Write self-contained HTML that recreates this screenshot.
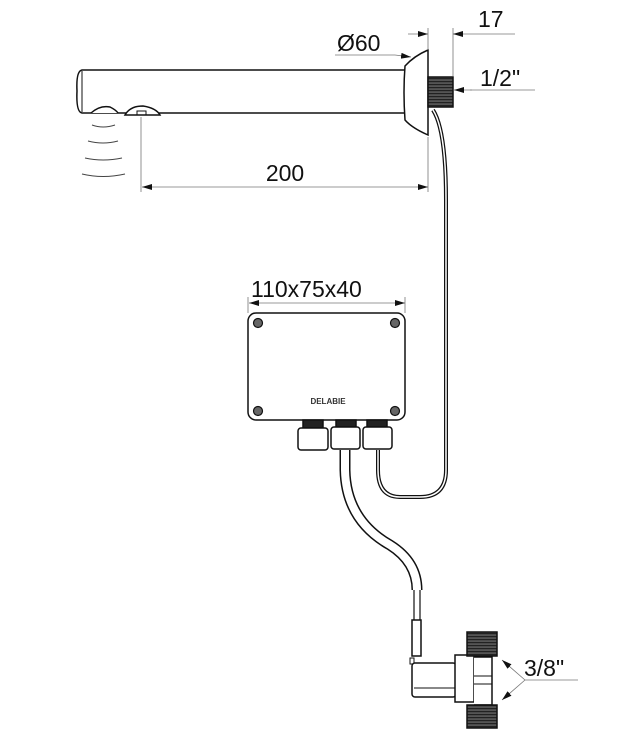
<!DOCTYPE html>
<html><head><style>html,body{margin:0;padding:0;background:#fff}svg{display:block}</style></head><body>
<svg width="624" height="737" viewBox="0 0 624 737" xmlns="http://www.w3.org/2000/svg" font-family="Liberation Sans, sans-serif">
<defs>
<marker id="a" viewBox="0 0 10 6" refX="10" refY="3" markerWidth="10" markerHeight="6" orient="auto-start-reverse" markerUnits="userSpaceOnUse"><path d="M0,0L10,3L0,6z" fill="#111"/></marker>
<pattern id="th" width="4" height="3" patternUnits="userSpaceOnUse"><rect width="4" height="3" fill="#555"/><rect width="4" height="1.2" fill="#222"/></pattern>
</defs>
<g fill="none" stroke="#111" stroke-width="1.5">
<path d="M82,70 L405,70 L405,113 L82,113 Q76,112 77,91 Q76,71 82,70Z" fill="#fff"/>
<line x1="82" y1="71" x2="82" y2="112" stroke-width="1"/>
<path d="M91,113 Q100,105 110,107 Q116,110 118,113" fill="#fff"/>
<path d="M125,115 Q130,106 143,106 Q156,108 160,115 Z" fill="#fff"/>
<rect x="137" y="111" width="9" height="4" stroke-width="1"/>
<path d="M428,50 L428,135 Q412,128 405,120 Q403,92 405,66 Q414,56 428,50Z" fill="#fff"/>
<rect x="428" y="77" width="25" height="30" fill="url(#th)" stroke="#111"/>
<path d="M433,110 Q446,130 446,200 L446,470 Q446,497 420,497 L400,497 Q378,497 378,470 L378,450" stroke-width="4"/>
<path d="M433,110 Q446,130 446,200 L446,470 Q446,497 420,497 L400,497 Q378,497 378,470 L378,450" stroke="#fff" stroke-width="1.5"/>
<path d="M345,450 L345,470 Q346,520 390,545 Q417,562 417,590" stroke-width="11"/>
<path d="M345,450 L345,470 Q346,520 390,545 Q417,562 417,590" stroke="#fff" stroke-width="8"/>
<path d="M414,590 L414,620 M420,590 L420,620" stroke-width="1.2"/>
<rect x="412" y="620" width="9" height="36" fill="#fff"/>
<rect x="410" y="658" width="4" height="6" fill="#fff" stroke-width="1"/>
<rect x="412" y="663" width="44" height="34" rx="3" fill="#fff"/>
<line x1="414" y1="688" x2="455" y2="688" stroke-width="1"/>
<rect x="455" y="655" width="19" height="47" fill="#fff"/>
<path d="M474,657 L492,657 L492,705 L474,705" fill="#fff"/>
<path d="M474,676 L492,676 M474,684 L492,684" stroke-width="1"/>
<rect x="467" y="632" width="30" height="24" fill="url(#th)"/>
<rect x="467" y="705" width="30" height="23" fill="url(#th)"/>
<rect x="248" y="313" width="157" height="107" rx="8" fill="#fff"/>
<g fill="#666" stroke-width="1.2"><circle cx="258" cy="323" r="4.5"/><circle cx="395" cy="323" r="4.5"/><circle cx="258" cy="411" r="4.5"/><circle cx="395" cy="411" r="4.5"/></g>
<rect x="303" y="420" width="20" height="8" fill="#222"/>
<rect x="336" y="420" width="20" height="7" fill="#222"/>
<rect x="367" y="420" width="20" height="7" fill="#222"/>
<rect x="298" y="428" width="30" height="22" rx="3" fill="#fff"/>
<rect x="331" y="427" width="29" height="22" rx="3" fill="#fff"/>
<rect x="363" y="427" width="29" height="22" rx="3" fill="#fff"/>
<g stroke-width="1" stroke="#444"><path d="M92,125 Q103,129 115,125"/><path d="M88,141 Q103,145 118,141"/><path d="M85,158 Q103,162 122,158"/><path d="M82,174 Q103,179 125,174"/></g>
</g>
<g stroke="#777" stroke-width="0.8" fill="none">
<line x1="141" y1="117" x2="141" y2="192"/><line x1="428" y1="137" x2="428" y2="192"/>
<line x1="428" y1="28" x2="428" y2="50"/><line x1="453" y1="28" x2="453" y2="76"/>
<line x1="248" y1="297" x2="248" y2="313"/><line x1="405" y1="297" x2="405" y2="313"/>
<line x1="475" y1="34" x2="515" y2="34"/><line x1="335" y1="55" x2="395" y2="55"/>
<line x1="470" y1="90" x2="535" y2="90"/><line x1="525" y1="680" x2="578" y2="680"/>
</g>
<g stroke="#777" stroke-width="0.8" fill="none" marker-end="url(#a)">
<line x1="285" y1="187" x2="428" y2="187"/><line x1="285" y1="187" x2="142" y2="187"/>
<line x1="326" y1="303" x2="405" y2="303"/><line x1="326" y1="303" x2="249" y2="303"/>
<line x1="408" y1="34" x2="428" y2="34"/><line x1="475" y1="34" x2="453" y2="34"/>
<line x1="395" y1="55" x2="411" y2="57"/><line x1="472" y1="90" x2="454" y2="90"/>
<line x1="525" y1="680" x2="502" y2="660"/><line x1="525" y1="680" x2="502" y2="700"/>
</g>
<g fill="#111" font-size="23">
<text x="285" y="181" text-anchor="middle">200</text>
<text x="251" y="297">110x75x40</text>
<text x="337" y="51">Ø60</text>
<text x="478" y="27">17</text>
<text x="480" y="86">1/2"</text>
<text x="524" y="676">3/8"</text>
</g>
<text x="328" y="404" font-size="8" font-weight="bold" text-anchor="middle" fill="#333">DELABIE</text>
</svg>
</body></html>
